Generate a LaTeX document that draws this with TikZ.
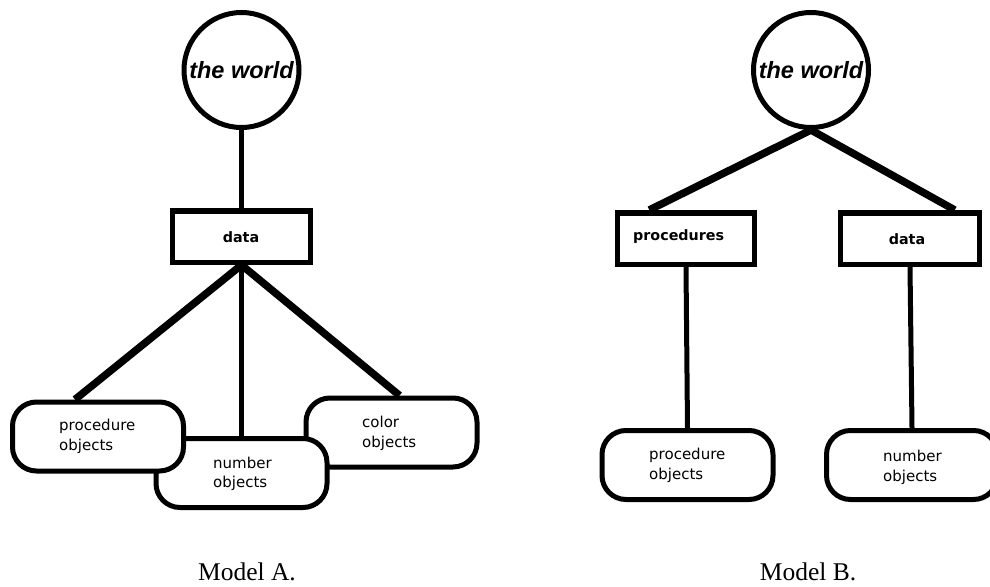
\documentclass[tikz,border=0pt]{standalone}
\usepackage{fontspec}
\newfontfamily\worldfont{Liberation Sans}
\newfontfamily\boxfont{DejaVu Sans}
\newfontfamily\capfont{Liberation Serif}
\begin{document}
\begin{tikzpicture}[x=1pt,y=-1pt,
  world/.style={circle,draw,line width=5pt,minimum size=115pt,inner sep=0pt,fill=white,
    font=\worldfont\bfseries\itshape\fontsize{23.5}{26}\selectfont},
  rectbox/.style={draw,line width=5.5pt,fill=white,inner sep=0pt,minimum height=51.5pt},
  objbox/.style={draw,line width=5pt,fill=white,rounded corners=24pt,inner sep=0pt,
    minimum width=171pt,minimum height=69pt},
  boxlbl/.style={font=\boxfont\bfseries\fontsize{14.3}{17}\selectfont,inner sep=0pt},
  objlbl/.style={font=\boxfont\fontsize{15}{19.5}\selectfont,align=left,inner sep=0pt,anchor=west},
  thin/.style={line width=5pt},
  thick/.style={line width=7.5pt},
  caption/.style={font=\capfont\fontsize{25.5}{30}\selectfont,inner sep=0pt,anchor=base}]
\useasboundingbox (0,0) rectangle (990,586);

% ---------------- Model A ----------------
\node[world] (wA) at (241.5,70) {the world};
\node[rectbox,minimum width=138pt] (dA) at (241.5,236.5) {};
\node[boxlbl] (dAl) at (241,237) {data};

\node[objbox] (cA) at (391.5,432.5) {};
\node[objbox] (nA) at (241.5,473) {};
\node[objbox] (pA) at (98,436.5) {};

\node[objlbl] (cAl) at (362,433.5) {color\\objects};
\node[objlbl] (nAl) at (213,474) {number\\objects};
\node[objlbl] (pAl) at (59,436.5) {procedure\\objects};

\draw[thin] (wA.south) -- (dA.north);
\draw[thick] (dA.south) -- ([xshift=65pt]pA.north west);
\draw[thin] (dA.south) -- (nA.north);
\draw[thick] (dA.south) -- ([xshift=-80pt]cA.north east);

\node[caption] (capA) at (247,580) {Model A.};

% ---------------- Model B ----------------
\node[world] (wB) at (811,70) {the world};
\node[rectbox,minimum width=137pt] (prB) at (686,238.5) {};
\node[rectbox,minimum width=139pt] (dB) at (910,238.5) {};
\node[boxlbl,anchor=west] (prBl) at (633,237) {procedures};
\node[boxlbl] (dBl) at (907,239) {data};

\node[objbox] (pB) at (687.5,465) {};
\node[objbox] (nB) at (912,465) {};
\node[objlbl] (pBl) at (649,465.5) {procedure\\objects};
\node[objlbl] (nBl) at (883,467.5) {number\\objects};

\draw[thick] (wB.south) -- ([xshift=34.5pt]prB.north west);
\draw[thick] (wB.south) -- ([xshift=-27.5pt]dB.north east);
\draw[thin] (prB.south) -- (pB.north);
\draw[thin] (dB.south) -- (nB.north);

\node[caption] (capB) at (808,580) {Model B.};
\end{tikzpicture}
\end{document}
